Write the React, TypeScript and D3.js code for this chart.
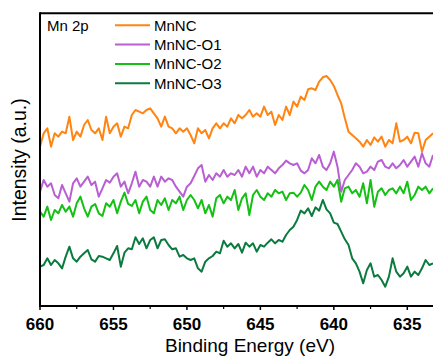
import React from "react";
import * as d3 from "d3";

// binding energy grid (eV), 0.25 eV steps
const energies = [
  660, 659.75, 659.5, 659.25, 659, 658.75, 658.5, 658.25, 658, 657.75,
  657.5, 657.25, 657, 656.75, 656.5, 656.25, 656, 655.75, 655.5, 655.25,
  655, 654.75, 654.5, 654.25, 654, 653.75, 653.5, 653.25, 653, 652.75,
  652.5, 652.25, 652, 651.75, 651.5, 651.25, 651, 650.75, 650.5, 650.25,
  650, 649.75, 649.5, 649.25, 649, 648.75, 648.5, 648.25, 648, 647.75,
  647.5, 647.25, 647, 646.75, 646.5, 646.25, 646, 645.75, 645.5, 645.25,
  645, 644.75, 644.5, 644.25, 644, 643.75, 643.5, 643.25, 643, 642.75,
  642.5, 642.25, 642, 641.75, 641.5, 641.25, 641, 640.75, 640.5, 640.25,
  640, 639.75, 639.5, 639.25, 639, 638.75, 638.5, 638.25, 638, 637.75,
  637.5, 637.25, 637, 636.75, 636.5, 636.25, 636, 635.75, 635.5, 635.25,
  635, 634.75, 634.5, 634.25, 634, 633.75, 633.5, 633.25,
];

// intensities (a.u., stacked offsets included)
const mnnc = [
  560, 600, 615, 560, 600, 590, 605, 600, 650, 580,
  605, 590, 625, 640, 610, 600, 615, 580, 650, 600,
  620, 630, 590, 620, 615, 655, 670, 665, 660, 670,
  675, 660, 645, 620, 650, 620, 615, 600, 615, 605,
  615, 595, 570, 615, 600, 610, 585, 615, 630, 615,
  630, 620, 645, 630, 655, 645, 655, 670, 650, 660,
  650, 680, 655, 665, 625, 655, 640, 680, 655, 695,
  680, 710, 700, 732, 735, 730, 755, 768, 772, 760,
  742, 715, 690, 645, 605, 595, 585, 575, 560, 580,
  565, 588, 575, 590, 560, 580, 570, 630, 575, 580,
  590, 570, 602, 600, 545, 580, 590, 600,
];

const mnncO1 = [
  425, 460, 440, 450, 415, 405, 445, 420, 395, 450,
  465, 440, 455, 470, 445, 455, 410, 435, 460, 452,
  470, 480, 440, 455, 420, 450, 485, 440, 460, 455,
  440, 470, 440, 470, 455, 465, 460, 440, 425, 410,
  440, 450, 472, 495, 505, 455, 475, 460, 480, 470,
  490, 470, 480, 475, 490, 470, 500, 480, 500, 470,
  490, 480, 500, 490, 480, 495, 505, 518, 510, 505,
  510, 488, 480, 490, 525, 510, 535, 500, 490, 510,
  545, 500, 425, 460, 475, 490, 510, 500, 480, 485,
  500, 490, 515, 520, 500, 495, 510, 495, 505, 520,
  500, 515, 530, 500, 540, 510, 500, 535,
];

const mnncO2 = [
  365, 350, 380, 340, 370, 360, 385, 365, 380, 350,
  390, 410, 375, 350, 380, 388, 360, 352, 390, 380,
  400, 360, 395, 422, 388, 382, 400, 360, 395, 410,
  370, 360, 400, 385, 405, 370, 400, 390, 410, 370,
  400, 415, 400, 375, 400, 360, 385, 350, 405, 415,
  390, 410, 400, 430, 370, 405, 420, 355, 415, 430,
  410, 400, 420, 410, 430, 420, 425, 400, 420, 422,
  410, 422, 445, 430, 400, 440, 455, 440, 430, 455,
  440, 460, 395, 435, 440, 420, 430, 410, 450, 390,
  460, 380, 425, 435, 415, 430, 435, 420, 440, 420,
  455, 400, 415, 440, 430, 440, 420, 435,
];

const mnncO3 = [
  200, 205, 225, 205, 220, 210, 195, 230, 260, 225,
  215, 230, 240, 250, 222, 215, 232, 230, 225, 220,
  240, 262, 200, 242, 255, 252, 288, 268, 285, 255,
  280, 288, 255, 280, 282, 265, 252, 255, 230, 235,
  225, 220, 225, 195, 185, 215, 225, 232, 245, 240,
  278, 260, 270, 255, 268, 242, 272, 260, 270, 245,
  265, 260, 272, 282, 270, 280, 275, 295, 310, 320,
  340, 368, 360, 375, 352, 378, 368, 400, 372, 360,
  332, 328, 305, 282, 265, 225, 210, 185, 150, 190,
  210, 170, 175, 160, 140, 170, 225, 185, 170, 180,
  200, 170, 185, 175, 195, 220, 205, 210,
];

const seriesNames = ["MnNC", "MnNC-O1", "MnNC-O2", "MnNC-O3"];
const seriesColors = ["#ff8411", "#b95ed3", "#13c013", "#0b7a3e"];
const seriesData = [mnnc, mnncO1, mnncO2, mnncO3];

const majorTicks = [660, 655, 650, 645, 640, 635];
const minorTicks = [657.5, 652.5, 647.5, 642.5, 637.5];

const font = "'Liberation Sans', Arial, sans-serif";

const App = () => {
  const width = 433;
  const height = 358;
  const plot = { left: 40, right: 433, top: 13.3, bottom: 306 };

  const x = d3
    .scaleLinear()
    .domain([660, 633.25])
    .range([plot.left, plot.right]);
  const y = d3
    .scaleLinear()
    .domain([82, 960])
    .range([plot.bottom, plot.top]);

  const line = d3
    .line<number>()
    .x((_, i) => x(energies[i]))
    .y((d) => y(d));

  return (
    <svg
      width={width}
      height={height}
      style={{ position: "absolute", left: 0, top: 0, background: "#fff" }}
      fontFamily={font}
    >
      {/* traces */}
      {seriesData.map((vals, k) => (
        <path
          key={seriesNames[k]}
          d={line(vals) || ""}
          fill="none"
          stroke={seriesColors[k]}
          strokeWidth={2}
          strokeLinejoin="round"
        />
      ))}

      {/* frame */}
      <line x1={plot.left} x2={width + 2} y1={plot.top} y2={plot.top} stroke="#000" strokeWidth={2} />
      <line x1={plot.left} x2={width + 2} y1={plot.bottom} y2={plot.bottom} stroke="#000" strokeWidth={2} />
      <line x1={plot.left} x2={plot.left} y1={plot.top - 1} y2={plot.bottom + 1} stroke="#000" strokeWidth={2} />

      {/* x ticks */}
      {majorTicks.map((t) => (
        <g key={t}>
          <line x1={x(t)} x2={x(t)} y1={plot.bottom} y2={plot.bottom + 4} stroke="#000" strokeWidth={1.5} />
          <text x={x(t)} y={330} textAnchor="middle" fontSize={17} fontWeight="bold">
            {t}
          </text>
        </g>
      ))}
      {minorTicks.map((t) => (
        <line key={t} x1={x(t)} x2={x(t)} y1={plot.bottom} y2={plot.bottom + 3} stroke="#000" strokeWidth={1.2} />
      ))}

      <text x={250} y={352} textAnchor="middle" fontSize={19}>
        Binding Energy (eV)
      </text>
      <text transform="translate(26,160) rotate(-90)" textAnchor="middle" fontSize={19.5}>
        Intensity (a.u.)
      </text>

      {/* legend */}
      <text x={47} y={30.7} fontSize={15}>
        Mn 2p
      </text>
      {seriesNames.map((name, k) => (
        <g key={name} transform={`translate(0,${25.3 + k * 19.3})`}>
          <line x1={115} x2={150} stroke={seriesColors[k]} strokeWidth={2} />
          <text x={154} y={5.4} fontSize={15}>
            {name}
          </text>
        </g>
      ))}
    </svg>
  );
};

export default App;
